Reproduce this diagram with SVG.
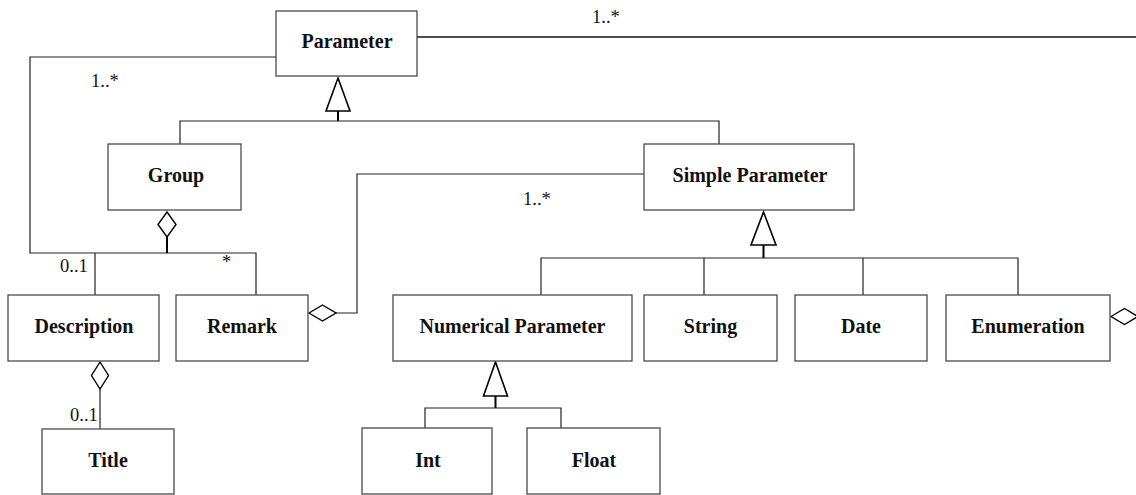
<svg xmlns="http://www.w3.org/2000/svg" width="1136" height="495" viewBox="0 0 1136 495">
  <style>
    .box { fill: #ffffff; stroke: #4a4a4a; stroke-width: 1.3; }
    .name { font-family: "Liberation Serif", "Times New Roman", serif; font-weight: bold; font-size: 20px; fill: #111; text-anchor: middle; }
    .mult { font-family: "Liberation Serif", "Times New Roman", serif; font-size: 18.5px; fill: #111; }
    .wire { fill: none; stroke: #222; stroke-width: 1.2; }
    .stem { fill: none; stroke: #000; stroke-width: 2; }
    .gen { fill: #ffffff; stroke: #000; stroke-width: 1.6; stroke-linejoin: miter; }
    .agg { fill: #ffffff; stroke: #000; stroke-width: 1.4; }
  </style>
  <rect width="1136" height="495" fill="#ffffff"/>

  <g id="connectors">
    <!-- Parameter association running off to the right -->
    <line class="wire" x1="417" y1="37" x2="1136" y2="37" style="stroke-width:1.6;stroke:#111"/>
    <!-- Parameter to Group contents (loop on the left) -->
    <polyline class="wire" points="276,57 30,57 30,253 256,253 256,295"/>
    <line class="wire" x1="95" y1="253" x2="95" y2="295"/>
    <!-- Group aggregation -->
    <polygon class="agg" points="167,212 176,224.5 167,237 158,224.5"/>
    <line class="stem" x1="167" y1="237" x2="167" y2="253"/>

    <!-- Parameter generalization -->
    <polygon class="gen" points="338,78 350,111 326,111"/>
    <line class="stem" x1="338" y1="111" x2="338" y2="121"/>
    <polyline class="wire" points="180,144 180,121 719,121 719,144"/>

    <!-- Simple Parameter to Remark aggregation -->
    <polyline class="wire" points="644,174 357,174 357,313 336,313"/>
    <polygon class="agg" points="309,313 322.5,305 336,313 322.5,321"/>

    <!-- Simple Parameter generalization -->
    <polygon class="gen" points="763.5,212 776,245 751,245"/>
    <line class="stem" x1="763.5" y1="245" x2="763.5" y2="258"/>
    <polyline class="wire" points="541,295 541,258 1018,258 1018,295"/>
    <line class="wire" x1="704" y1="258" x2="704" y2="295"/>
    <line class="wire" x1="863" y1="258" x2="863" y2="295"/>

    <!-- Enumeration aggregation (continues off the right edge) -->
    <polygon class="agg" points="1111,316.5 1124.5,308.5 1138,316.5 1124.5,324.5"/>

    <!-- Description to Title aggregation -->
    <polygon class="agg" points="100,362 108.5,375.5 100,389 91.5,375.5"/>
    <line class="wire" x1="100" y1="389" x2="100" y2="429"/>

    <!-- Numerical Parameter generalization -->
    <polygon class="gen" points="495.5,362 507.5,396 483.5,396"/>
    <line class="stem" x1="495.5" y1="396" x2="495.5" y2="408"/>
    <polyline class="wire" points="425,428 425,408 561,408 561,428"/>

    <!-- multiplicities -->
    <text class="mult" x="592" y="23">1..*</text>
    <text class="mult" x="91" y="87">1..*</text>
    <text class="mult" x="523" y="205">1..*</text>
    <text class="mult" x="60" y="272">0..1</text>
    <text class="mult" x="222" y="268">*</text>
    <text class="mult" x="70" y="421">0..1</text>
  </g>

  <g id="parameter">
    <rect class="box" x="276" y="11" width="141" height="65"/>
    <text class="name" x="347" y="48">Parameter</text>
  </g>
  <g id="group">
    <rect class="box" x="108" y="144" width="133" height="66"/>
    <text class="name" x="176" y="182">Group</text>
  </g>
  <g id="simple-parameter">
    <rect class="box" x="644" y="144" width="210" height="66"/>
    <text class="name" x="750" y="182">Simple Parameter</text>
  </g>
  <g id="description">
    <rect class="box" x="8" y="295" width="151" height="66"/>
    <text class="name" x="84" y="333">Description</text>
  </g>
  <g id="remark">
    <rect class="box" x="176" y="295" width="132" height="66"/>
    <text class="name" x="242" y="333">Remark</text>
  </g>
  <g id="numerical-parameter">
    <rect class="box" x="393" y="295" width="239" height="66"/>
    <text class="name" x="512.5" y="333">Numerical Parameter</text>
  </g>
  <g id="string">
    <rect class="box" x="644" y="295" width="133" height="66"/>
    <text class="name" x="710.5" y="333">String</text>
  </g>
  <g id="date">
    <rect class="box" x="795" y="295" width="132" height="66"/>
    <text class="name" x="861" y="333">Date</text>
  </g>
  <g id="enumeration">
    <rect class="box" x="946" y="295" width="164" height="66"/>
    <text class="name" x="1028" y="333">Enumeration</text>
  </g>
  <g id="title">
    <rect class="box" x="42" y="429" width="132" height="65"/>
    <text class="name" x="108" y="467">Title</text>
  </g>
  <g id="int">
    <rect class="box" x="362" y="428" width="130" height="66"/>
    <text class="name" x="428" y="467">Int</text>
  </g>
  <g id="float">
    <rect class="box" x="527" y="428" width="133" height="66"/>
    <text class="name" x="594" y="467">Float</text>
  </g>
</svg>
